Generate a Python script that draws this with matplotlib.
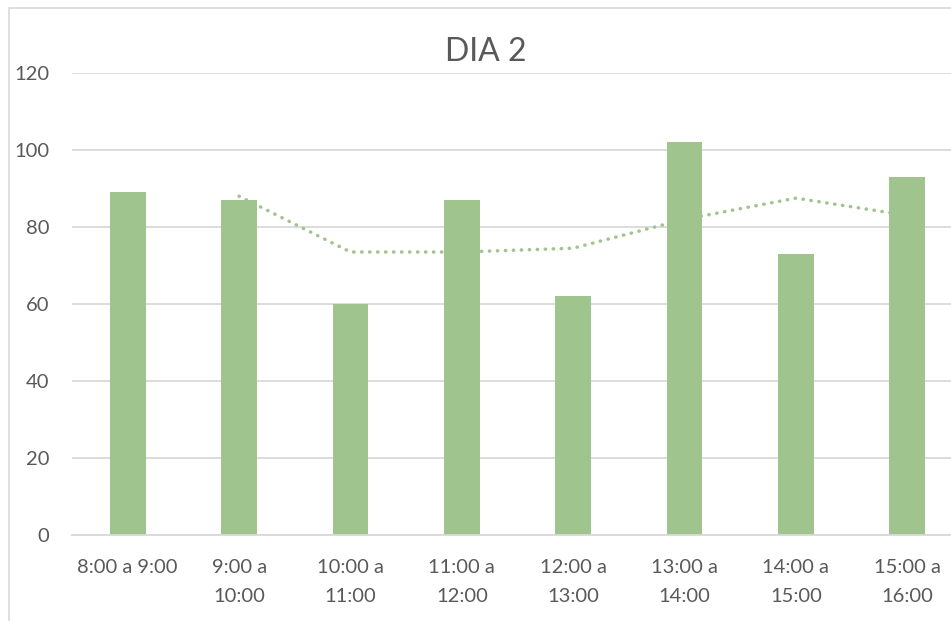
import matplotlib.pyplot as plt
from matplotlib.patches import Rectangle

plt.rcParams['font.family'] = ['Lato', 'DejaVu Sans']

# data
labels = ['8:00 a 9:00', '9:00 a\n10:00', '10:00 a\n11:00', '11:00 a\n12:00',
          '12:00 a\n13:00', '13:00 a\n14:00', '14:00 a\n15:00', '15:00 a\n16:00']
values = [89, 87, 60, 87, 62, 102, 73, 93]
# 2-period moving average trendline, starts at the second category
trend_x = [1, 2, 3, 4, 5, 6, 7]
trend_y = [88, 73.5, 73.5, 74.5, 82, 87.5, 83]

GREEN = '#a0c48e'
GRID = '#d9d9d9'
TEXT = '#595959'

W, H = 951, 621
fig = plt.figure(figsize=(W / 100, H / 100), dpi=100)

# chart frame (cut at right and bottom)
fig.patches.append(Rectangle((9 / W, -0.1), 1.2, (H - 8) / H + 0.1,
                             transform=fig.transFigure, fill=False,
                             edgecolor=GRID, linewidth=1.2))

ax = fig.add_axes([72 / W, (H - 535) / H, (963 - 72) / W, (535 - 73) / H])
x = range(len(values))
ax.bar(x, values, width=0.32, color=GREEN, zorder=2)
ax.plot(trend_x, trend_y, color=GREEN, linewidth=2.5, linestyle=(0, (0.1, 2.2)),
        dash_capstyle='round', zorder=3)

ax.set_xlim(-0.5, 7.5)
ax.set_ylim(0, 120)
ax.set_yticks(range(0, 121, 20))
ax.set_xticks(list(x))
ax.set_xticklabels(labels, linespacing=1.85)
ax.grid(axis='y', color=GRID, linewidth=1.3, zorder=0)
ax.set_axisbelow(True)
for s in ['top', 'right', 'left']:
    ax.spines[s].set_visible(False)
ax.spines['bottom'].set_color(GRID)
ax.spines['bottom'].set_linewidth(1.3)
ax.tick_params(length=0, labelsize=14.5, colors=TEXT)
ax.tick_params(axis='y', pad=16.5)
ax.tick_params(axis='x', pad=17)

fig.text(486 / W, 1 - 52 / H, 'DIA 2', ha='center', va='center', fontsize=23, color=TEXT)

fig.savefig('out.png', dpi=100)
